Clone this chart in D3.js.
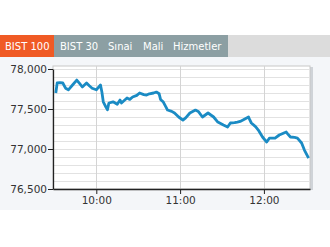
<!DOCTYPE html>
<html>
<head>
<meta charset="utf-8">
<script src="https://cdn.jsdelivr.net/npm/d3@7"></script>
<style>
  body { margin: 0; background: #fff; }
  svg { display: block; font-family: "DejaVu Sans", Verdana, sans-serif; }
</style>
</head>
<body>
<div id="chart"></div>
<script>
// tabs at the top
const tabs = ["BIST 100", "BIST 30", "Sınai", "Mali", "Hizmetler"];

// intraday index values
const times = [
  "09:31","09:32","09:34","09:36","09:38","09:40","09:43","09:46","09:48","09:50",
  "09:53","09:55","09:57","10:00","10:03","10:04","10:05","10:07","10:08","10:09",
  "10:12","10:15","10:17","10:18","10:22","10:24","10:26","10:29","10:31","10:34",
  "10:36","10:38","10:41","10:43","10:45","10:46","10:48","10:50","10:51","10:54",
  "10:56","10:59","11:02","11:04","11:07","11:11","11:13","11:16","11:20","11:24",
  "11:27","11:31","11:34","11:36","11:39","11:41","11:43","11:45","11:49","11:50",
  "11:51","11:54","11:56","11:59","12:02","12:04","12:08","12:11","12:16","12:17",
  "12:19","12:22","12:24","12:27","12:29","12:32"
];
const values = [
  77700,77825,77830,77825,77760,77740,77800,77862,77820,77775,
  77825,77790,77760,77740,77800,77712,77590,77520,77490,77575,
  77590,77560,77612,77575,77637,77620,77650,77670,77700,77680,
  77675,77690,77700,77712,77690,77620,77587,77520,77487,77470,
  77450,77400,77362,77390,77450,77487,77470,77400,77450,77400,
  77337,77300,77275,77325,77330,77337,77345,77362,77400,77360,
  77325,77280,77237,77150,77087,77137,77137,77175,77212,77190,
  77150,77145,77137,77075,76987,76887
];
const yTicks = [76500, 77000, 77500, 78000];
const xTicks = ["10:00", "11:00", "12:00"];

const W = 330, H = 247;
const parse = d3.timeParse("%H:%M");
const data = times.map((t, i) => ({ t: parse(t), v: values[i] }));

const svg = d3.select("#chart").append("svg").attr("width", W).attr("height", H);

// light panel behind the chart
svg.append("rect").attr("x", 0).attr("y", 57).attr("width", W).attr("height", 153).attr("fill", "#f4f6f9");

// tab bar
svg.append("rect").attr("x", 0).attr("y", 35).attr("width", W).attr("height", 22).attr("fill", "#dcdcdc");
svg.append("rect").attr("x", 54).attr("y", 35).attr("width", 174).attr("height", 22).attr("fill", "#8c9fa3");
svg.append("rect").attr("x", 0).attr("y", 35).attr("width", 54).attr("height", 22).attr("fill", "#f05a24");
const tabX = [5, 60, 108, 143, 173];
svg.selectAll(".tab").data(tabs).enter().append("text")
  .attr("x", (d, i) => tabX[i]).attr("y", 49.5)
  .attr("fill", "#fff").attr("font-size", 10).text(d => d);

const pl = 53, pr = 310, pt = 66, pb = 189;
const x = d3.scaleTime().domain([parse("09:29"), parse("12:33")]).range([pl, pr]);
const y = d3.scaleLinear().domain([76500, 78000]).range([pb, 69]);

// plot shadow + background
svg.append("rect").attr("x", pl + 2).attr("y", pt + 1).attr("width", pr - pl + 1).attr("height", pb - pt)
  .attr("fill", "#cfd3d8");
svg.append("rect").attr("x", pl).attr("y", pt).attr("width", pr - pl).attr("height", pb - pt)
  .attr("fill", "#fff").attr("stroke", "#c8c8c8").attr("stroke-width", 1);

// horizontal grid every 100
svg.append("g").selectAll("line").data(d3.range(76600, 78001, 100)).enter().append("line")
  .attr("x1", pl).attr("x2", pr)
  .attr("y1", d => Math.round(y(d)) + 0.5).attr("y2", d => Math.round(y(d)) + 0.5)
  .attr("stroke", "#e2e2e2");

// vertical grid at hours
svg.append("g").selectAll("line").data(xTicks).enter().append("line")
  .attr("x1", d => Math.round(x(parse(d))) + 0.5).attr("x2", d => Math.round(x(parse(d))) + 0.5)
  .attr("y1", pt).attr("y2", pb)
  .attr("stroke", "#d4d4d4");

// line
svg.append("path").datum(data)
  .attr("fill", "none").attr("stroke", "#1a8bc4").attr("stroke-width", 2.8)
  .attr("stroke-linejoin", "round")
  .attr("d", d3.line().x(d => x(d.t)).y(d => y(d.v)));

// axes
const yAxis = svg.append("g").attr("transform", `translate(${pl},0)`)
  .call(d3.axisLeft(y).tickValues(yTicks).tickSize(5).tickSizeOuter(0).tickFormat(d3.format(",")));
const xAxis = svg.append("g").attr("transform", `translate(0,${pb})`)
  .call(d3.axisBottom(x).tickValues(xTicks.map(parse)).tickSize(5).tickSizeOuter(0).tickFormat(d3.timeFormat("%H:%M")));
[yAxis, xAxis].forEach(a => {
  a.select(".domain").attr("stroke", "#222").attr("stroke-width", 1.3);
  a.selectAll(".tick line").attr("stroke", "#222");
  a.selectAll("text").attr("font-family", "DejaVu Sans").attr("font-size", 10.5).attr("fill", "#333");
});
yAxis.selectAll("text").attr("x", -6);
xAxis.selectAll("text").attr("y", 8);
</script>
</body>
</html>
